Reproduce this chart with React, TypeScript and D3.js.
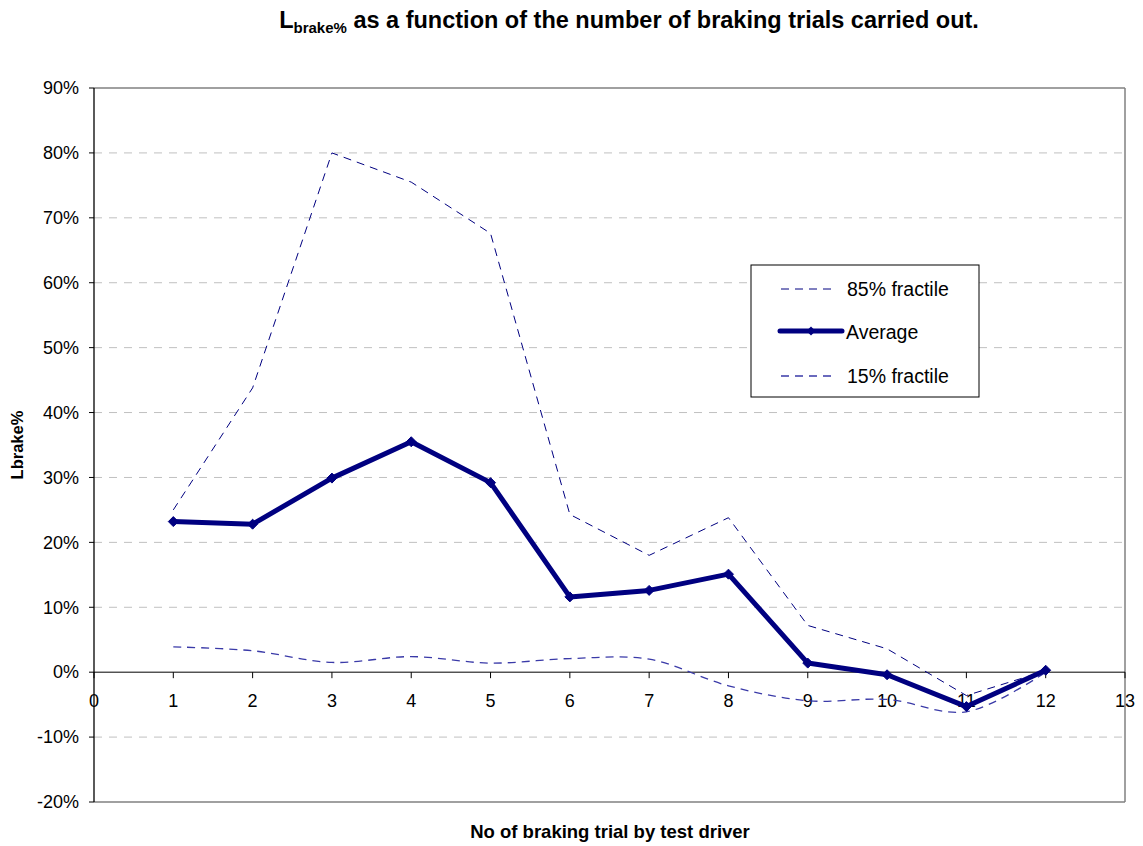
import React from "react";
import * as d3 from "d3";

const trials = [1, 2, 3, 4, 5, 6, 7, 8, 9, 10, 11, 12];
const fractile85 = [25.0, 43.8, 80.0, 75.5, 67.6, 24.3, 18.0, 23.8, 7.2, 3.6, -3.6, 0.2];
const average = [23.2, 22.8, 29.9, 35.5, 29.2, 11.6, 12.6, 15.1, 1.4, -0.4, -5.3, 0.3];
const fractile15 = [3.9, 3.3, 1.5, 2.4, 1.4, 2.1, 2.0, -2.1, -4.4, -4.2, -6.1, 0.0];
const yTicks = [-20, -10, 0, 10, 20, 30, 40, 50, 60, 70, 80, 90];
const xTicks = [0, 1, 2, 3, 4, 5, 6, 7, 8, 9, 10, 11, 12, 13];
const legendItems = ["85% fractile", "Average", "15% fractile"];

const W = 1143;
const H = 846;
const left = 94;
const right = 1125;
const top = 88;
const bottom = 802;
const navy = "#000080";
const font = "Liberation Sans, Arial, sans-serif";

export default function App() {
  const x = d3.scaleLinear().domain([0, 13]).range([left, right]);
  const y = d3.scaleLinear().domain([-20, 90]).range([bottom, top]);

  const straight = d3
    .line<number>()
    .x((_, i) => x(trials[i]))
    .y((d) => y(d));
  const smooth = d3
    .line<number>()
    .x((_, i) => x(trials[i]))
    .y((d) => y(d))
    .curve(d3.curveCatmullRom.alpha(0.5));

  const diamond = (cx: number, cy: number, r: number) =>
    `M${cx},${cy - r}L${cx + r},${cy}L${cx},${cy + r}L${cx - r},${cy}Z`;

  const y0 = y(0);

  return (
    <svg
      width={W}
      height={H}
      style={{ position: "absolute", left: 0, top: 0, background: "#fff" }}
      fontFamily={font}
    >
      <rect x={0} y={0} width={W} height={H} fill="#fff" />
      {/* Title */}
      <text x={629} y={28} textAnchor="middle" fontSize={23.5} fontWeight="bold" fill="#000">
        <tspan>L</tspan>
        <tspan fontSize={15} dy={5}>brake%</tspan>
        <tspan dy={-5}> as a function of the number of braking trials carried out.</tspan>
      </text>

      {/* Grid lines */}
      {yTicks
        .filter((t) => t !== 0 && t !== 90 && t !== -20)
        .map((t) => (
          <line
            key={"g" + t}
            x1={left}
            x2={right}
            y1={y(t)}
            y2={y(t)}
            stroke="#c0c0c0"
            strokeWidth={1}
            strokeDasharray="8,7"
          />
        ))}

      {/* Plot border */}
      <line x1={left} x2={right} y1={top} y2={top} stroke="#808080" strokeWidth={1.5} />
      <line x1={right} x2={right} y1={top} y2={bottom} stroke="#808080" strokeWidth={1.5} />
      <line x1={left} x2={right} y1={bottom} y2={bottom} stroke="#808080" strokeWidth={1.5} />
      <line x1={left} x2={left} y1={top} y2={bottom} stroke="#000" strokeWidth={1.3} />

      {/* Y ticks */}
      {yTicks.map((t) => (
        <g key={"y" + t}>
          <line x1={left - 5} x2={left} y1={y(t)} y2={y(t)} stroke="#000" strokeWidth={1} />
          <text
            x={left - 15}
            y={y(t)}
            dy="0.35em"
            textAnchor="end"
            fontSize={18}
            fill="#000"
          >
            {t}%
          </text>
        </g>
      ))}

      {/* X axis at zero */}
      <line x1={left} x2={right} y1={y0} y2={y0} stroke="#000" strokeWidth={1} />
      {xTicks.map((t) => (
        <g key={"x" + t}>
          <line x1={x(t)} x2={x(t)} y1={y0} y2={y0 + 6} stroke="#000" strokeWidth={1} />
          <text x={x(t)} y={y0 + 35} textAnchor="middle" fontSize={18} fill="#000">
            {t}
          </text>
        </g>
      ))}

      {/* Series */}
      <path
        d={straight(fractile85) || ""}
        fill="none"
        stroke={navy}
        strokeWidth={1}
        strokeDasharray="8,6"
      />
      <path
        d={smooth(fractile15) || ""}
        fill="none"
        stroke="#3a3aa8"
        strokeWidth={1.3}
        strokeDasharray="8,6"
      />
      <path
        d={straight(average) || ""}
        fill="none"
        stroke={navy}
        strokeWidth={5}
        strokeLinejoin="round"
      />
      {average.map((v, i) => (
        <path key={"m" + i} d={diamond(x(trials[i]), y(v), 5)} fill={navy} stroke={navy} />
      ))}

      {/* Axis titles */}
      <text
        x={610}
        y={838}
        textAnchor="middle"
        fontSize={18.5}
        fontWeight="bold"
        fill="#000"
      >
        No of braking trial by test driver
      </text>
      <text
        transform={`translate(23,${(top + bottom) / 2}) rotate(-90)`}
        textAnchor="middle"
        fontSize={16.5}
        fontWeight="bold"
        fill="#000"
      >
        Lbrake%
      </text>

      {/* Legend */}
      <rect x={751} y={265} width={228} height={132} fill="#fff" stroke="#000" strokeWidth={1} />
      <line x1={781} x2={837} y1={289} y2={289} stroke={navy} strokeWidth={1} strokeDasharray="8,6" />
      <line x1={780} x2={842} y1={331} y2={331} stroke={navy} strokeWidth={5} strokeLinecap="round" />
      <path d={diamond(811, 331, 4.5)} fill={navy} />
      <line
        x1={781}
        x2={837}
        y1={376}
        y2={376}
        stroke="#3a3aa8"
        strokeWidth={1.3}
        strokeDasharray="8,6"
      />
      {legendItems.map((s, i) => (
        <text
          key={s}
          x={i === 1 ? 846 : 847}
          y={[289, 332, 376][i]}
          dy="0.35em"
          fontSize={19.5}
          fill="#000"
        >
          {s}
        </text>
      ))}
    </svg>
  );
}
